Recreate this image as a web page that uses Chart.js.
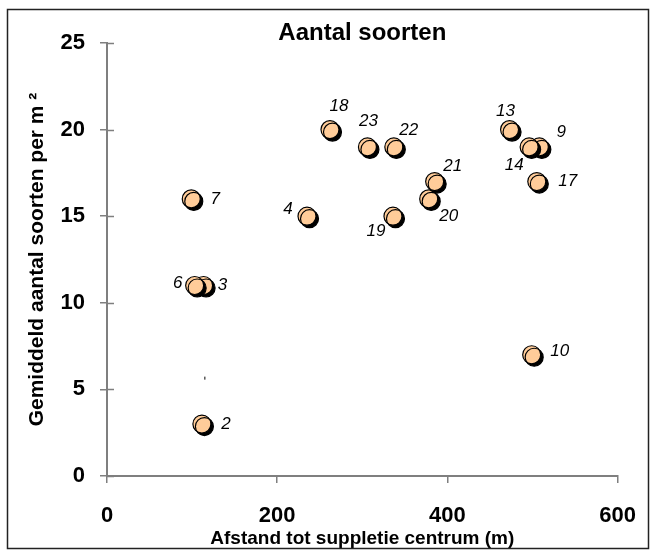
<!DOCTYPE html>
<html>
<head>
<meta charset="utf-8">
<title>Aantal soorten</title>
<script src="https://cdn.jsdelivr.net/npm/chart.js@4/dist/chart.umd.min.js"></script>
<style>
  body { margin: 0; background: #fff; }
  canvas { display: block; }
</style>
</head>
<body>
<canvas id="grafiek" width="656" height="552"></canvas>
<script>
// data
const puntNummers = ['2', '3', '6', '7', '4', '18', '23', '22', '19', '20', '21', '13', '9', '14', '17', '10'];
const afstand = [111.5, 113.5, 103, 99, 235, 262, 306, 337, 336, 378, 385, 473, 508, 496, 505, 499];
const aantalSoorten = [3, 11, 11, 16, 15, 20, 19, 19, 15, 16, 17, 20, 19, 19, 17, 7];
const xTicks = [0, 200, 400, 600];
const yTicks = [0, 5, 10, 15, 20, 25];
// klein streepje in de figuur
const streepX = [115];
const streepY = [5.65];

// plaats van de nummers t.o.v. het punt (px)
const labelOffset = {
  '2': [24, 0], '3': [19, 0], '6': [-17, -2], '7': [24, 0], '4': [-19, -7],
  '18': [9, -23], '23': [1, -26], '22': [15, -17], '19': [-17, 15], '20': [20, 17],
  '21': [18, -15], '13': [-4, -18], '9': [22, -15], '14': [-15, 18], '17': [31, 0],
  '10': [28, -3]
};

const FONT = "'Liberation Sans', Arial, sans-serif";
const asKleur = '#7f7f7f';

const schaduw = {
  id: 'schaduw',
  beforeDatasetDraw(chart, args) {
    if (args.index !== 0) return;
    const c = chart.ctx;
    c.save();
    c.shadowColor = '#000';
    c.shadowOffsetX = 2.5;
    c.shadowOffsetY = 2.5;
    c.shadowBlur = 0;
  },
  afterDatasetDraw(chart, args) {
    if (args.index !== 0) return;
    chart.ctx.restore();
  }
};

const nummers = {
  id: 'nummers',
  afterDatasetsDraw(chart) {
    const c = chart.ctx;
    const meta = chart.getDatasetMeta(0);
    c.save();
    c.font = 'italic 17px ' + FONT;
    c.fillStyle = '#000';
    c.textAlign = 'center';
    c.textBaseline = 'middle';
    meta.data.forEach((p, i) => {
      const nr = puntNummers[i];
      const off = labelOffset[nr] || [0, 0];
      c.fillText(nr, p.x + off[0], p.y + off[1]);
    });
    c.restore();
  }
};

// y-streepjes lopen door de as heen, en de rand om de hele figuur
const asStreepjes = {
  id: 'asStreepjes',
  afterDraw(chart) {
    const c = chart.ctx;
    const ys = chart.scales.y;
    const xs = chart.scales.x;
    c.save();
    c.strokeStyle = asKleur;
    c.lineWidth = 1.5;
    yTicks.forEach(v => {
      const py = Math.round(ys.getPixelForValue(v)) + 0.5;
      c.beginPath();
      c.moveTo(xs.left, py);
      c.lineTo(xs.left + 7, py);
      c.stroke();
    });
    c.strokeStyle = '#222';
    c.lineWidth = 1.5;
    c.strokeRect(7.5, 9.5, 641, 539);
    c.restore();
  }
};

new Chart(document.getElementById('grafiek'), {
  type: 'scatter',
  data: {
    datasets: [{
      label: 'Aantal soorten',
      data: afstand.map((x, i) => ({ x, y: aantalSoorten[i] })),
      backgroundColor: '#ffcc99',
      borderColor: '#000',
      borderWidth: 1.2,
      pointRadius: 9,
      pointHoverRadius: 9
    }, {
      label: 'streep',
      data: streepX.map((x, i) => ({ x, y: streepY[i] })),
      pointStyle: 'line',
      rotation: 90,
      pointRadius: 1.5,
      borderColor: '#000',
      borderWidth: 1
    }]
  },
  options: {
    responsive: false,
    devicePixelRatio: 1,
    animation: false,
    layout: { padding: { left: 0, right: 29, top: 0, bottom: 0 } },
    plugins: {
      legend: { display: false },
      tooltip: { enabled: false },
      title: {
        display: true,
        text: 'Aantal soorten',
        fullSize: false,
        color: '#000',
        font: { family: FONT, size: 24, weight: 'bold', lineHeight: 1 },
        padding: { top: 21, bottom: -2 }
      }
    },
    scales: {
      x: {
        type: 'linear',
        min: 0,
        max: 600,
        afterBuildTicks: s => { s.ticks = xTicks.map(v => ({ value: v })); },
        afterFit: s => { s.height = 76; },
        ticks: { color: '#000', padding: 20, font: { family: FONT, size: 22, weight: 'bold' } },
        grid: { drawOnChartArea: false, tickLength: 7, color: asKleur, lineWidth: 1.5 },
        border: { color: asKleur, width: 2 },
        title: {
          display: true,
          text: 'Afstand tot suppletie centrum (m)',
          color: '#000',
          font: { family: FONT, size: 19, weight: 'bold' },
          padding: { top: 0, bottom: 2 }
        }
      },
      y: {
        min: 0,
        max: 25,
        afterBuildTicks: s => { s.ticks = yTicks.map(v => ({ value: v })); },
        afterFit: s => { s.width = 107; },
        ticks: { color: '#000', padding: 15, font: { family: FONT, size: 22, weight: 'bold' } },
        grid: { drawOnChartArea: false, tickLength: 7, color: asKleur, lineWidth: 1.5 },
        border: { color: asKleur, width: 2 },
        title: {
          display: true,
          text: 'Gemiddeld aantal soorten per m ²',
          color: '#000',
          font: { family: FONT, size: 21, weight: 'bold' },
          padding: { top: 25, bottom: 0 }
        }
      }
    }
  },
  plugins: [schaduw, nummers, asStreepjes]
});
</script>
</body>
</html>
